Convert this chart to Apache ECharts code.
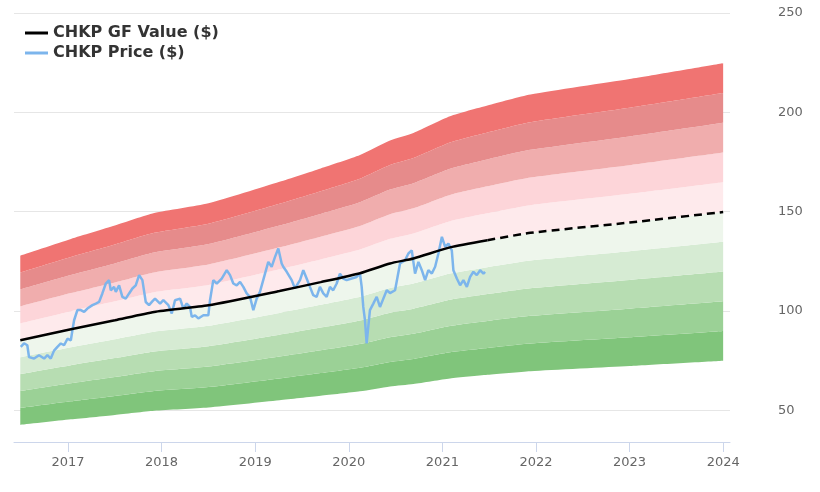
<!DOCTYPE html>
<html><head><meta charset="utf-8">
<script src="https://cdn.jsdelivr.net/npm/echarts@6/dist/echarts.min.js"></script>
<style>html,body{margin:0;padding:0;background:#fff}#c{width:820px;height:492px}</style>
</head><body><div id="c"></div>
<script>
// ---- data ----
const gfYears  = [2016.49, 2017.03, 2017.5, 2017.92, 2018.5, 2019.26, 2019.7, 2020.12, 2020.44, 2020.69, 2021.08, 2021.48, 2021.94, 2023.0, 2024.0];
const gfValues = [85.2, 90.8, 95.3, 99.5, 102.8, 110.0, 114.5, 119.0, 123.9, 126.4, 132.0, 135.6, 139.3, 144.5, 149.8];
const gfSolidEnd = 2021.48;
const bandStep = 0.1;
const bandBase = 0.5;
const bandColors = ['#80c57b', '#9bd196', '#b7ddb2', '#d6ebd3', '#eef6ec', '#feeaec', '#fdd5d9', '#f0adad', '#e68b8b', '#f07472'];
const priceYears = [2016.495,2016.53,2016.565,2016.583,2016.637,2016.69,2016.744,2016.779,2016.815,2016.85,2016.886,2016.922,2016.957,2016.993,2017.029,2017.046,2017.064,2017.099,2017.136,2017.171,2017.206,2017.26,2017.296,2017.331,2017.366,2017.403,2017.438,2017.456,2017.491,2017.51,2017.545,2017.58,2017.616,2017.652,2017.687,2017.723,2017.759,2017.794,2017.83,2017.865,2017.9,2017.929,2017.983,2018.018,2018.072,2018.108,2018.143,2018.197,2018.232,2018.268,2018.303,2018.322,2018.357,2018.392,2018.446,2018.499,2018.517,2018.552,2018.589,2018.642,2018.696,2018.731,2018.766,2018.802,2018.838,2018.873,2018.909,2018.944,2018.98,2019.016,2019.051,2019.105,2019.14,2019.176,2019.212,2019.247,2019.265,2019.283,2019.30,2019.337,2019.39,2019.425,2019.479,2019.514,2019.55,2019.585,2019.621,2019.657,2019.692,2019.728,2019.764,2019.799,2019.834,2019.871,2019.906,2019.941,2019.978,2020.031,2020.084,2020.12,2020.138,2020.155,2020.173,2020.191,2020.208,2020.226,2020.262,2020.298,2020.333,2020.369,2020.405,2020.44,2020.494,2020.547,2020.60,2020.636,2020.672,2020.707,2020.743,2020.779,2020.814,2020.849,2020.886,2020.921,2020.956,2020.993,2021.028,2021.063,2021.099,2021.116,2021.153,2021.188,2021.223,2021.26,2021.295,2021.33,2021.366,2021.402,2021.437,2021.455];
const priceValues = [81.9,83.7,82.7,76.8,76.0,77.7,76.0,77.7,76.0,80.0,81.9,83.6,82.7,86.0,85.2,90.3,95.3,100.4,100.4,99.5,101.2,102.9,103.7,104.5,108.8,113.8,115.5,110.4,112.1,109.6,112.9,107.1,106.2,108.8,111.3,112.9,118.0,115.5,104.5,102.9,104.8,106.2,103.7,105.4,102.9,98.7,105.4,106.2,101.2,103.7,102.0,97.0,97.8,96.2,97.8,97.8,105.4,115.5,113.8,116.3,120.5,118.0,113.8,112.9,114.6,112.1,108.8,107.1,100.4,106.2,109.6,118.8,124.7,122.2,127.2,131.4,132.2,123.9,122.2,119.7,115.5,111.3,115.5,120.5,116.3,112.1,107.9,107.1,112.1,108.8,107.1,112.1,110.4,113.8,118.8,116.3,115.5,116.3,117.1,118.8,112.1,102.0,95.3,83.6,91.9,100.4,103.7,107.1,102.0,106.2,110.4,109.0,110.4,123.9,125.5,128.9,130.5,118.8,124.7,120.5,115.5,120.5,118.8,122.2,128.9,137.3,132.2,133.9,130.5,120.5,116.3,112.9,115.5,112.1,117.1,119.7,118.0,120.5,118.8,119.7];
const yearTicks = [2017, 2018, 2019, 2020, 2021, 2022, 2023, 2024];
const xStartYear = 2016.423, xEndYear = 2024.073;
const yMin = 34, yMax = 250;

// ---- helpers ----
function ts(y) {
  const yr = Math.floor(y);
  const a = Date.UTC(yr, 0, 1), b = Date.UTC(yr + 1, 0, 1);
  return a + (y - yr) * (b - a);
}
const FONT = 'DejaVu Sans';
const series = [];
series.push({
  type: 'line', stack: 'band', symbol: 'none', silent: true, smooth: 0.2,
  lineStyle: { opacity: 0, width: 0 },
  data: gfYears.map((y, i) => [ts(y), gfValues[i] * bandBase])
});
bandColors.forEach((c) => {
  series.push({
    type: 'line', stack: 'band', symbol: 'none', silent: true, smooth: 0.2,
    lineStyle: { width: 0, opacity: 0 },
    areaStyle: { color: c, opacity: 1 },
    data: gfYears.map((y, i) => [ts(y), gfValues[i] * bandStep])
  });
});
series.push({
  name: 'CHKP Price ($)', type: 'line', symbol: 'none', color: '#7cb5ec',
  lineStyle: { color: '#7cb5ec', width: 2.5 },
  data: priceYears.map((y, i) => [ts(y), priceValues[i]])
});
const solidIdx = gfYears.filter(y => y <= gfSolidEnd).length;
series.push({
  name: 'CHKP GF Value ($)', type: 'line', symbol: 'none', color: '#000', smooth: 0.2,
  lineStyle: { color: '#000', width: 2.5 },
  data: gfYears.slice(0, solidIdx).map((y, i) => [ts(y), gfValues[i]])
});
series.push({
  type: 'line', symbol: 'none', color: '#000', smooth: 0.2,
  lineStyle: { color: '#000', width: 2.5, type: [8, 5] },
  data: gfYears.slice(solidIdx - 1).map((y, i) => [ts(y), gfValues[solidIdx - 1 + i]])
});

const chart = echarts.init(document.getElementById('c'), null, { renderer: 'canvas' });
chart.setOption({
  useUTC: true,
  animation: false,
  backgroundColor: '#fff',
  textStyle: { fontFamily: FONT },
  grid: { left: 14, right: 90, top: 13, bottom: 50, containLabel: false, outerBoundsMode: 'none' },
  legend: {
    orient: 'vertical', left: 20, top: 20, itemGap: 4, itemWidth: 23, itemHeight: 3,
    icon: 'rect',
    data: [{ name: 'CHKP GF Value ($)', itemStyle: { color: '#000' } }, { name: 'CHKP Price ($)', itemStyle: { color: '#7cb5ec' } }],
    textStyle: { fontFamily: FONT, fontSize: 16, fontWeight: 'bold', color: '#333' }
  },
  xAxis: [{
    type: 'time', min: ts(xStartYear), max: ts(xEndYear),
    axisLine: { show: false }, axisTick: { show: false }, axisLabel: { show: false },
    splitLine: { show: false }
  }, {
    // year ruler, same span as the time axis, expressed in decimal years
    type: 'value', position: 'bottom', min: xStartYear, max: xEndYear,
    axisLine: { show: true, lineStyle: { color: '#ccd6eb', width: 1 } },
    axisTick: { show: true, length: 10, lineStyle: { color: '#ccd6eb' }, customValues: yearTicks },
    axisLabel: {
      color: '#666', fontSize: 13, fontFamily: FONT, margin: 14,
      customValues: yearTicks, formatter: (v) => String(Math.round(v))
    },
    splitLine: { show: false }
  }],
  yAxis: {
    type: 'value', position: 'right', min: yMin, max: yMax,
    axisLine: { show: false }, axisTick: { show: false },
    axisLabel: { color: '#666', fontSize: 13, fontFamily: FONT, margin: 48, showMinLabel: false },
    splitLine: { show: true, lineStyle: { color: '#e6e6e6', width: 1 } }
  },
  series: series
});
</script></body></html>
